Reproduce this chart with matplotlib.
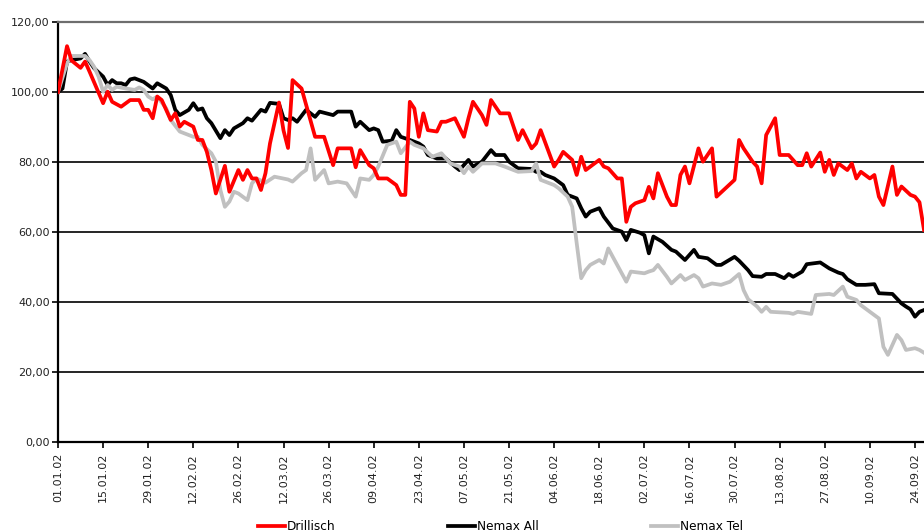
import matplotlib
matplotlib.use("Agg")
import matplotlib.pyplot as plt
import pandas as pd

# trading-day index (0 = 01.01.02) and index values
drillisch_days = [0, 2, 3, 5, 6, 7, 10, 11, 12, 14, 16, 18, 19, 20, 21, 22, 23, 25, 26, 27,
                  28, 30, 31, 32, 33, 34, 35, 37, 38, 40, 41, 42, 43, 44, 45, 46, 47, 49, 50, 51,
                  52, 54, 57, 59, 61, 62, 65, 66, 67, 69, 70, 71, 73, 75, 76, 77, 78, 79, 80, 81,
                  82, 84, 85, 86, 88, 90, 91, 92, 94, 95, 96, 98, 100, 102, 103, 105, 106, 107, 110, 111,
                  112, 114, 115, 116, 117, 120, 121, 122, 124, 125, 126, 127, 128, 130, 131, 132, 133, 135, 136, 137,
                  138, 139, 140, 142, 143, 145, 146, 150, 151, 152, 154, 155, 156, 157, 159, 160, 162, 164, 165, 166,
                  167, 169, 170, 171, 172, 173, 175, 176, 177, 178, 180, 181, 182, 183, 185, 186, 187, 189, 190, 191,
                  192]
drillisch = [100.0, 113.1, 109.0, 106.9, 108.7, 105.8, 96.8, 100.1, 97.2, 95.8, 97.7, 97.7, 94.9, 94.9, 92.5, 98.7, 97.7, 92.0, 93.9, 90.1,
             91.5, 90.1, 86.3, 86.3, 82.9, 77.7, 71.0, 78.9, 71.5, 77.7, 74.9, 77.7, 75.3, 75.3, 72.0, 76.8, 85.3, 97.0, 89.0, 84.0,
             103.4, 101.0, 87.2, 87.2, 79.1, 83.9, 83.9, 78.5, 83.4, 79.1, 78.2, 75.3, 75.3, 73.4, 70.6, 70.6, 97.2, 95.3, 87.2, 93.9,
             89.1, 88.7, 91.5, 91.5, 92.5, 87.2, 92.5, 97.2, 93.4, 90.6, 97.7, 93.9, 93.9, 86.3, 89.1, 83.9, 85.3, 89.1, 78.7, 80.6,
             82.9, 80.6, 76.3, 81.5, 77.7, 80.6, 78.7, 78.2, 75.3, 75.3, 62.9, 67.2, 68.2, 69.1, 72.9, 69.6, 76.8, 70.1, 67.7, 67.7,
             76.3, 78.7, 73.9, 83.9, 80.1, 83.9, 70.1, 74.9, 86.3, 83.9, 80.1, 78.7, 73.9, 87.7, 92.5, 82.0, 82.0, 79.1, 79.1, 82.5,
             78.7, 82.7, 77.2, 80.6, 76.3, 79.6, 77.7, 79.6, 75.3, 77.2, 75.3, 76.3, 70.1, 67.7, 78.7, 70.6, 73.0, 70.6, 70.1, 68.5,
             60.6]

nemax_all_days = [0, 1, 2, 3, 5, 6, 7, 8, 10, 11, 12, 13, 14, 15, 16, 17, 19, 21, 22, 24,
                  25, 26, 27, 29, 30, 31, 32, 33, 34, 36, 37, 38, 39, 41, 42, 43, 45, 46, 47, 49,
                  50, 51, 52, 53, 55, 57, 58, 61, 62, 65, 66, 67, 69, 70, 71, 72, 74, 75, 76, 78,
                  80, 81, 82, 84, 86, 88, 89, 91, 92, 94, 96, 97, 99, 100, 102, 105, 106, 107, 108, 110,
                  112, 113, 114, 115, 116, 117, 118, 120, 121, 123, 125, 126, 127, 129, 130, 131, 132, 134, 136, 137,
                  139, 141, 142, 144, 146, 147, 150, 151, 153, 154, 156, 157, 159, 161, 162, 163, 165, 166, 169, 171,
                  173, 174, 175, 177, 179, 181, 182, 185, 187, 188, 189, 190, 191, 192]
nemax_all = [100.0, 101.0, 108.7, 109.1, 109.6, 110.9, 108.7, 106.8, 104.4, 102.0, 103.4, 102.5, 102.5, 102.0, 103.6, 103.9, 102.9, 101.0, 102.5, 101.0,
             99.1, 94.9, 93.4, 94.9, 96.8, 94.9, 95.3, 92.5, 91.1, 86.8, 89.1, 87.7, 89.6, 91.1, 92.5, 91.8, 94.9, 94.4, 96.9, 96.6,
             92.5, 92.0, 92.5, 91.5, 94.9, 92.9, 94.4, 93.4, 94.4, 94.4, 90.1, 91.5, 89.1, 89.6, 89.1, 85.8, 86.1, 89.1, 87.2, 86.3,
             85.3, 84.4, 82.0, 81.0, 81.0, 78.7, 77.7, 80.6, 78.7, 80.1, 83.4, 82.0, 82.0, 80.1, 78.2, 78.0, 77.2, 77.2, 76.3, 75.3,
             73.4, 70.6, 70.1, 69.6, 66.8, 64.4, 65.8, 66.8, 64.4, 61.0, 60.1, 57.7, 60.6, 59.8, 59.1, 53.9, 58.7, 57.2, 54.9, 54.4,
             52.0, 54.9, 52.9, 52.5, 50.6, 50.6, 52.9, 51.8, 49.1, 47.4, 47.2, 48.0, 48.0, 46.8, 48.0, 47.2, 48.7, 50.8, 51.3, 49.6,
             48.4, 48.0, 46.5, 44.9, 44.9, 45.1, 42.5, 42.3, 39.6, 38.7, 37.9, 35.8, 37.2, 37.7]

nemax_tel_days = [0, 2, 3, 4, 6, 7, 8, 9, 10, 11, 12, 13, 15, 17, 18, 19, 20, 21, 22, 24,
                  25, 27, 29, 30, 31, 32, 34, 35, 36, 37, 38, 39, 40, 42, 43, 44, 46, 48, 51, 52,
                  54, 55, 56, 57, 59, 60, 62, 64, 66, 67, 69, 70, 71, 73, 75, 76, 78, 79, 81, 83,
                  85, 87, 89, 90, 91, 92, 94, 97, 99, 102, 105, 106, 107, 108, 110, 111, 113, 114, 115, 116,
                  117, 118, 120, 121, 122, 123, 125, 126, 127, 130, 131, 132, 133, 135, 136, 138, 139, 141, 142, 143,
                  145, 147, 149, 151, 152, 153, 155, 156, 157, 158, 162, 163, 164, 167, 168, 171, 172, 174, 175, 177,
                  178, 182, 183, 184, 186, 187, 188, 190, 191, 192]
nemax_tel = [100.0, 108.2, 110.3, 110.3, 110.3, 109.1, 107.2, 104.4, 100.1, 102.0, 100.6, 101.5, 101.0, 100.6, 101.3, 100.6, 98.7, 97.9, 98.7, 95.3,
             92.0, 88.7, 87.7, 87.2, 87.2, 84.9, 82.5, 80.1, 72.0, 67.2, 68.7, 71.5, 71.0, 69.1, 73.9, 75.3, 74.1, 75.8, 75.0, 74.4,
             76.8, 77.7, 83.9, 74.9, 77.7, 73.9, 74.4, 73.9, 70.1, 75.3, 74.9, 76.3, 78.7, 84.9, 85.8, 82.5, 85.8, 84.9, 83.9, 81.5,
             82.5, 79.6, 78.7, 76.8, 78.7, 77.2, 79.6, 79.6, 78.7, 77.2, 77.4, 79.6, 74.9, 74.4, 73.4, 72.5, 70.1, 67.2, 56.8, 46.8,
             49.1, 50.6, 52.0, 51.0, 55.3, 52.9, 48.2, 45.8, 48.7, 48.2, 48.7, 49.1, 50.6, 47.2, 45.3, 47.7, 46.3, 47.7, 46.8, 44.4,
             45.3, 44.9, 45.8, 48.0, 43.4, 40.8, 38.7, 37.2, 38.6, 37.2, 36.9, 36.6, 37.2, 36.6, 42.0, 42.3, 42.0, 44.4, 41.5, 40.6,
             39.1, 35.3, 27.2, 24.9, 30.6, 29.1, 26.3, 26.8, 26.3, 25.5]

trading_days = pd.bdate_range("2002-01-01", periods=193)
tick_days = list(range(0, 191, 10))
tick_labels = [trading_days[d].strftime("%d.%m.%y") for d in tick_days]
y_ticks = [0, 20, 40, 60, 80, 100, 120]

plt.rcParams["font.family"] = "DejaVu Sans"
fig = plt.figure(figsize=(9.24, 5.32), dpi=100)
ax = fig.add_axes([58 / 924, 90 / 532, 866 / 924, 420 / 532])

ax.plot(nemax_all_days, nemax_all, color="black", linewidth=2.7, label="Nemax All", zorder=3)
ax.plot(nemax_tel_days, nemax_tel, color="#c0c0c0", linewidth=2.7, label="Nemax Tel", zorder=4)
ax.plot(drillisch_days, drillisch, color="#ff0000", linewidth=2.7, label="Drillisch", zorder=5)

ax.set_xlim(0, 192)
ax.set_ylim(0, 120)
ax.set_yticks(y_ticks)
ax.set_yticklabels([f"{v:.2f}".replace(".", ",") for v in y_ticks], fontsize=8, color="#222222")
ax.set_xticks(tick_days)
ax.set_xticklabels(tick_labels, rotation=90, fontsize=8, color="#222222")
ax.tick_params(axis="y", length=4, width=1.2, pad=2)
ax.tick_params(axis="x", length=4, width=1.2, pad=4)

for v in y_ticks[1:-1]:
    ax.axhline(v, color="black", linewidth=1.2, zorder=1)

ax.spines["right"].set_visible(False)
ax.spines["top"].set_color("#6e6e6e")
ax.spines["top"].set_linewidth(1.6)
ax.spines["left"].set_linewidth(1.6)
ax.spines["bottom"].set_linewidth(1.6)

handles, labels = ax.get_legend_handles_labels()
order = [2, 0, 1]
fig.legend([handles[i] for i in order], [labels[i] for i in order],
           loc="center left", bbox_to_anchor=(258 / 924, 0.010), ncol=3,
           frameon=False, fontsize=8.7, handlelength=2.2, handletextpad=0.2,
           columnspacing=9.3, borderpad=0, borderaxespad=0)

fig.savefig("out.png", dpi=100)
